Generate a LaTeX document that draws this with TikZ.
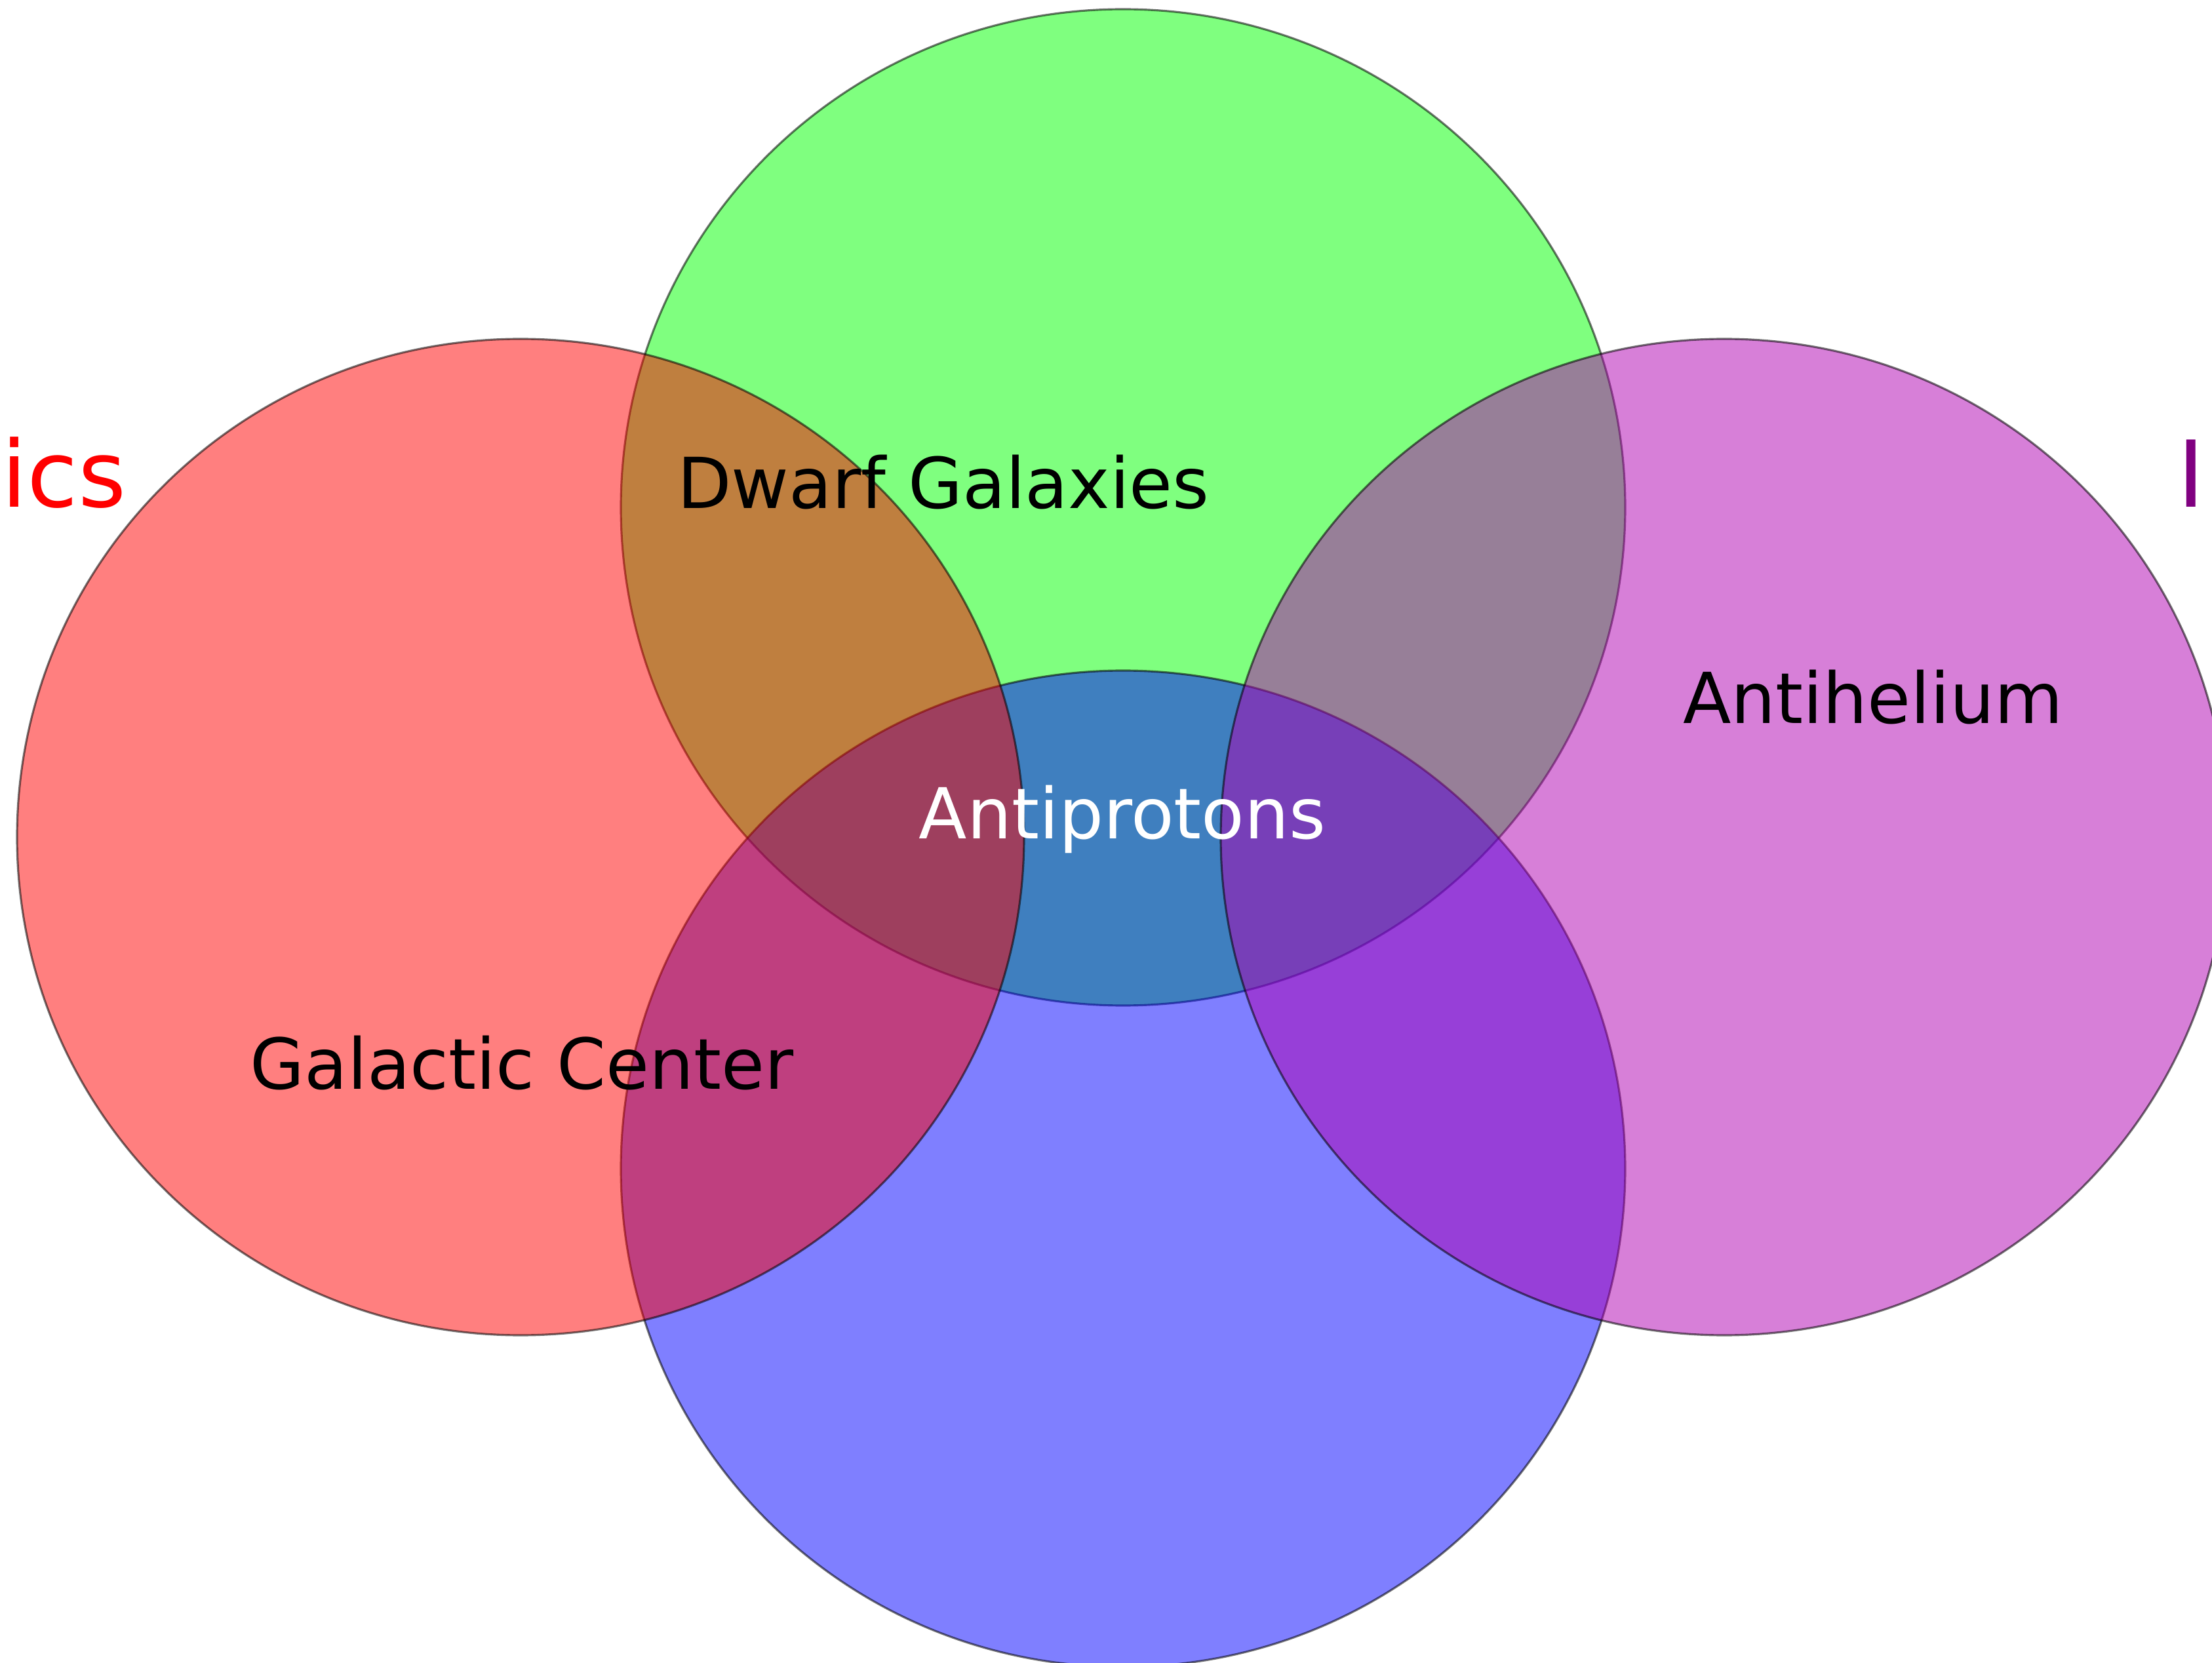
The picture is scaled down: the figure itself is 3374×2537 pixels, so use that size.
\documentclass[tikz,border=0pt]{standalone}
\usepackage{fontspec}
\setmainfont{DejaVu Sans}
\definecolor{vgreen}{RGB}{0,255,0}
\definecolor{vblue}{RGB}{0,0,255}
\definecolor{vred}{RGB}{255,0,0}
\definecolor{vpurple}{RGB}{176,0,178}
\definecolor{purpletext}{RGB}{128,0,128}
\tikzset{
    venn/.style={
        draw=black,
        draw opacity=0.55,
        line width=0.9pt,
        fill opacity=0.5
    },
    region/.style={
        anchor=base,
        inner sep=0pt,
        font=\fontsize{30.5}{36}\selectfont
    },
    setlbl/.style={
        inner sep=0pt,
        font=\fontsize{40}{48}\selectfont
    }
}
\begin{document}
\begin{tikzpicture}[x=0.01cm, y=-0.01cm]

\useasboundingbox (0,0) rectangle (3374,2537);
\clip (0,0) rectangle (3374,2537);

% the four sets
\draw[venn, fill=vgreen] (1713,774) ellipse (766 and 760);
\draw[venn, fill=vblue] (1713,1783) ellipse (766 and 760);
\draw[venn, fill=vred] (794,1277) ellipse (768 and 760);
\draw[venn, fill=vpurple] (2630,1277) ellipse (768 and 760);

% region labels
\node[region] (dwarf) at (1439,776) {Dwarf Galaxies};
\node[region, text=white] (pbar) at (1712,1279) {Antiprotons};
\node[region] (hebar) at (2857,1104) {Antihelium};
\node[region] (gc) at (796,1661) {Galactic Center};

% set labels
\node[setlbl, anchor=base east, text=vred] (redset) at (193,774) {ics};
\node[setlbl, anchor=base west, text=purpletext] (purpleset) at (3321,774) {I};

\end{tikzpicture}
\end{document}
